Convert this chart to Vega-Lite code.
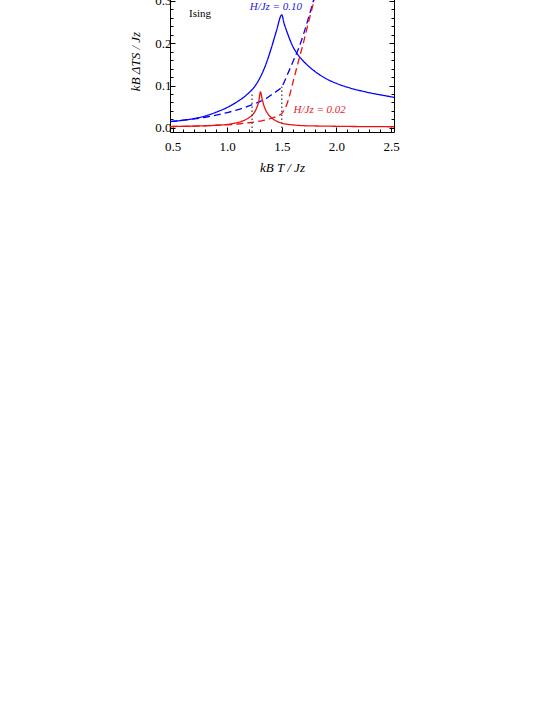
{
  "$schema": "https://vega.github.io/schema/vega-lite/v6.json",
  "width": 224,
  "height": 142,
  "autosize": {"type": "none"},
  "padding": {"left": 170, "top": -10, "right": 159, "bottom": 583},
  "background": "white",
  "config": {
    "view": {"stroke": "black", "strokeWidth": 1},
    "axis": {"grid": false, "domain": false, "tickColor": "black", "tickWidth": 1, "labelColor": "black", "titleColor": "black", "labelFont": "Liberation Serif", "titleFont": "Liberation Serif", "labelFontSize": 13, "titleFontSize": 13, "titleFontWeight": "normal", "titleFontStyle": "italic", "labelOverlap": false, "labelFlush": false},
    "axisX": {"labelOverlap": false},
    "axisBottom": {"labelOverlap": false}
  },
  "datasets": {
    "curves": [
      {"T": 0.48, "v": 0.0145, "s": "bs"}, {"T": 0.6, "v": 0.018, "s": "bs"}, {"T": 0.7, "v": 0.022, "s": "bs"}, {"T": 0.8, "v": 0.028, "s": "bs"}, {"T": 0.9, "v": 0.037, "s": "bs"}, {"T": 1.0, "v": 0.048, "s": "bs"}, {"T": 1.1, "v": 0.063, "s": "bs"}, {"T": 1.15, "v": 0.072, "s": "bs"}, {"T": 1.2, "v": 0.083, "s": "bs"}, {"T": 1.25, "v": 0.097, "s": "bs"}, {"T": 1.3, "v": 0.118, "s": "bs"}, {"T": 1.35, "v": 0.147, "s": "bs"}, {"T": 1.4, "v": 0.185, "s": "bs"}, {"T": 1.45, "v": 0.228, "s": "bs"}, {"T": 1.5, "v": 0.267, "s": "bs"}, {"T": 1.52, "v": 0.248, "s": "bs"}, {"T": 1.55, "v": 0.225, "s": "bs"}, {"T": 1.6, "v": 0.193, "s": "bs"}, {"T": 1.65, "v": 0.172, "s": "bs"}, {"T": 1.7, "v": 0.157, "s": "bs"}, {"T": 1.8, "v": 0.134, "s": "bs"}, {"T": 1.9, "v": 0.117, "s": "bs"}, {"T": 2.0, "v": 0.105, "s": "bs"}, {"T": 2.1, "v": 0.096, "s": "bs"}, {"T": 2.2, "v": 0.089, "s": "bs"}, {"T": 2.3, "v": 0.083, "s": "bs"}, {"T": 2.4, "v": 0.078, "s": "bs"}, {"T": 2.53, "v": 0.072, "s": "bs"},
      {"T": 0.48, "v": 0.015, "s": "bd"}, {"T": 0.6, "v": 0.018, "s": "bd"}, {"T": 0.7, "v": 0.021, "s": "bd"}, {"T": 0.8, "v": 0.025, "s": "bd"}, {"T": 0.9, "v": 0.03, "s": "bd"}, {"T": 1.0, "v": 0.036, "s": "bd"}, {"T": 1.1, "v": 0.043, "s": "bd"}, {"T": 1.2, "v": 0.052, "s": "bd"}, {"T": 1.25, "v": 0.057, "s": "bd"}, {"T": 1.3, "v": 0.062, "s": "bd"}, {"T": 1.35, "v": 0.068, "s": "bd"}, {"T": 1.4, "v": 0.077, "s": "bd"}, {"T": 1.45, "v": 0.086, "s": "bd"}, {"T": 1.5, "v": 0.097, "s": "bd"}, {"T": 1.55, "v": 0.125, "s": "bd"}, {"T": 1.6, "v": 0.155, "s": "bd"}, {"T": 1.65, "v": 0.185, "s": "bd"}, {"T": 1.7, "v": 0.222, "s": "bd"}, {"T": 1.75, "v": 0.265, "s": "bd"}, {"T": 1.8, "v": 0.31, "s": "bd"}, {"T": 1.85, "v": 0.355, "s": "bd"},
      {"T": 0.48, "v": 0.003, "s": "rs"}, {"T": 0.7, "v": 0.004, "s": "rs"}, {"T": 0.9, "v": 0.006, "s": "rs"}, {"T": 1.0, "v": 0.008, "s": "rs"}, {"T": 1.1, "v": 0.013, "s": "rs"}, {"T": 1.15, "v": 0.017, "s": "rs"}, {"T": 1.2, "v": 0.024, "s": "rs"}, {"T": 1.24, "v": 0.033, "s": "rs"}, {"T": 1.27, "v": 0.047, "s": "rs"}, {"T": 1.29, "v": 0.063, "s": "rs"}, {"T": 1.305, "v": 0.085, "s": "rs"}, {"T": 1.32, "v": 0.068, "s": "rs"}, {"T": 1.34, "v": 0.05, "s": "rs"}, {"T": 1.37, "v": 0.034, "s": "rs"}, {"T": 1.4, "v": 0.025, "s": "rs"}, {"T": 1.45, "v": 0.016, "s": "rs"}, {"T": 1.5, "v": 0.011, "s": "rs"}, {"T": 1.6, "v": 0.007, "s": "rs"}, {"T": 1.7, "v": 0.005, "s": "rs"}, {"T": 1.9, "v": 0.004, "s": "rs"}, {"T": 2.2, "v": 0.003, "s": "rs"}, {"T": 2.53, "v": 0.0025, "s": "rs"},
      {"T": 0.48, "v": 0.003, "s": "rd"}, {"T": 0.7, "v": 0.004, "s": "rd"}, {"T": 0.9, "v": 0.006, "s": "rd"}, {"T": 1.0, "v": 0.007, "s": "rd"}, {"T": 1.1, "v": 0.009, "s": "rd"}, {"T": 1.2, "v": 0.012, "s": "rd"}, {"T": 1.3, "v": 0.016, "s": "rd"}, {"T": 1.4, "v": 0.022, "s": "rd"}, {"T": 1.45, "v": 0.027, "s": "rd"}, {"T": 1.5, "v": 0.034, "s": "rd"}, {"T": 1.55, "v": 0.058, "s": "rd"}, {"T": 1.6, "v": 0.105, "s": "rd"}, {"T": 1.65, "v": 0.155, "s": "rd"}, {"T": 1.7, "v": 0.203, "s": "rd"}, {"T": 1.75, "v": 0.255, "s": "rd"}, {"T": 1.8, "v": 0.305, "s": "rd"}, {"T": 1.85, "v": 0.355, "s": "rd"}
    ],
    "dots": [
      {"T": 1.228, "lo": -0.0099, "hi": 0.085},
      {"T": 1.5, "lo": -0.0099, "hi": 0.097}
    ],
    "labels": [
      {"T": 1.446, "v": 0.286, "text": "H/Jz = 0.10", "c": "blue"},
      {"T": 1.847, "v": 0.041, "text": "H/Jz = 0.02", "c": "red"}
    ],
    "ising": [
      {"T": 0.752, "v": 0.268, "text": "Ising"}
    ]
  },
  "encoding": {
    "x": {"field": "T", "type": "quantitative", "scale": {"domain": [0.477, 2.527], "nice": false, "zero": false},
      "axis": {"orient": "bottom", "title": "kB T / Jz", "titlePadding": 6, "labelOverlap": false, "labelFlush": false, "labelBound": false,
        "values": [0.5,0.6,0.7,0.8,0.9,1.0,1.1,1.2,1.3,1.4,1.5,1.6,1.7,1.8,1.9,2.0,2.1,2.2,2.3,2.4,2.5],
        "labelExpr": "abs(datum.value*2 - round(datum.value*2)) < 0.000001 ? format(datum.value, '.1f') : ''",
        "tickSize": {"condition": {"test": "abs(datum.value*2 - round(datum.value*2)) < 0.000001", "value": -5}, "value": -3},
        "labelPadding": 13}}
  },
  "layer": [
    {
      "data": {"name": "curves"},
      "mark": {"type": "line", "clip": true, "strokeWidth": 1.3, "interpolate": "monotone"},
      "encoding": {
        "y": {"field": "v", "type": "quantitative", "scale": {"domain": [-0.0099, 0.3258], "nice": false, "zero": false},
          "axis": {"orient": "left", "title": "kB ΔTS / Jz", "titlePadding": 12,
            "values": [0,0.02,0.04,0.06,0.08,0.1,0.12,0.14,0.16,0.18,0.2,0.22,0.24,0.26,0.28,0.3],
            "labelExpr": "abs(datum.value*10 - round(datum.value*10)) < 0.000001 ? format(datum.value, '.1f') : ''",
            "tickSize": {"condition": {"test": "abs(datum.value*10 - round(datum.value*10)) < 0.000001", "value": -5}, "value": -3},
            "labelPadding": 4}},
        "detail": {"field": "s"},
        "color": {"field": "s", "type": "nominal", "legend": null, "scale": {"domain": ["bs", "bd", "rs", "rd"], "range": ["#0000ff", "#0000ff", "#ee1111", "#ee1111"]}},
        "strokeDash": {"field": "s", "type": "nominal", "legend": null, "scale": {"domain": ["bs", "bd", "rs", "rd"], "range": [[1, 0], [7, 4], [1, 0], [7, 4]]}},
        "order": {"field": "T", "type": "quantitative"}
      }
    },
    {
      "data": {"name": "dots"},
      "mark": {"type": "rule", "color": "#444444", "strokeWidth": 1.3, "strokeDash": [1.5, 2.5]},
      "encoding": {
        "y": {"field": "lo", "type": "quantitative",
          "axis": {"orient": "right", "title": null, "labels": false,
            "values": [0,0.02,0.04,0.06,0.08,0.1,0.12,0.14,0.16,0.18,0.2,0.22,0.24,0.26,0.28,0.3],
            "tickSize": {"condition": {"test": "abs(datum.value*10 - round(datum.value*10)) < 0.000001", "value": -5}, "value": -3}}},
        "y2": {"field": "hi"}
      }
    },
    {
      "data": {"name": "labels"},
      "mark": {"type": "text", "font": "Liberation Serif", "fontSize": 11, "fontStyle": "italic", "align": "center", "baseline": "middle"},
      "encoding": {
        "y": {"field": "v", "type": "quantitative", "axis": null},
        "text": {"field": "text"},
        "color": {"field": "c", "type": "nominal", "legend": null, "scale": {"domain": ["blue", "red"], "range": ["#1a1ae6", "#e8222c"]}}
      }
    },
    {
      "data": {"name": "ising"},
      "mark": {"type": "text", "font": "Liberation Serif", "fontSize": 11, "align": "center", "baseline": "middle", "color": "black"},
      "encoding": {
        "y": {"field": "v", "type": "quantitative", "axis": null},
        "text": {"field": "text"}
      }
    }
  ],
  "resolve": {"axis": {"y": "independent"}, "scale": {"color": "independent"}}
}
